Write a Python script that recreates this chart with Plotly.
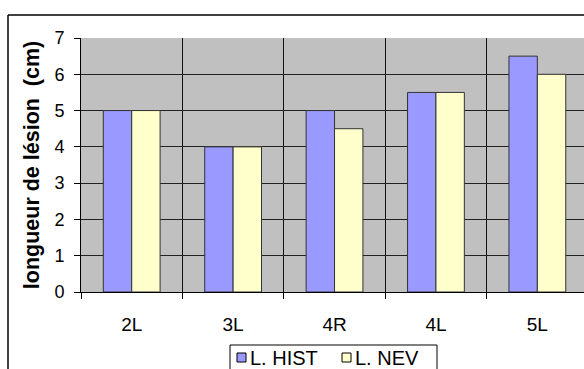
import plotly.graph_objects as go

categories = ["2L", "3L", "4R", "4L", "5L"]
hist_values = [5, 4, 5, 5.5, 6.5]
nev_values = [5, 4, 4.5, 5.5, 6]
y_ticks = [0, 1, 2, 3, 4, 5, 6, 7]
series_names = ["L. HIST", "L. NEV"]
series_colors = ["#9999FF", "#FFFFCC"]

font_family = "Liberation Sans, Arial, sans-serif"

W, H = 584, 369
M_L, M_R, M_T, M_B = 81, 0, 38, 77
PLOT_W = W - M_L - M_R
PLOT_H = H - M_T - M_B


def px(x):
    """pixel x -> paper x"""
    return (x - M_L) / PLOT_W


def py(y):
    """pixel y (from top) -> paper y"""
    return (H - M_B - y) / PLOT_H


fig = go.Figure()
for name, vals, col in zip(series_names, [hist_values, nev_values], series_colors):
    fig.add_trace(go.Bar(
        x=categories, y=vals, name=name,
        marker=dict(color=col, line=dict(color="#333333", width=1)),
        showlegend=False,
    ))

fig.update_layout(
    width=W, height=H,
    margin=dict(l=M_L, r=M_R, t=M_T, b=M_B, autoexpand=False),
    paper_bgcolor="white",
    plot_bgcolor="#C0C0C0",
    barmode="group",
    bargap=0.44,
    bargroupgap=0,
    font=dict(family=font_family, size=18, color="black"),
    xaxis=dict(
        type="category",
        range=[-0.5, 4.46],
        tickson="boundaries",
        ticks="outside", ticklen=6, tickcolor="black", tickwidth=1,
        showgrid=True, gridcolor="#111111", gridwidth=1,
        showline=True, linecolor="black", linewidth=1,
        tickfont=dict(size=19),
        ticklabelstandoff=15,
    ),
    yaxis=dict(
        range=[0, 7],
        tickvals=y_ticks,
        ticks="outside", ticklen=6, tickcolor="black", tickwidth=1,
        showgrid=True, gridcolor="#222222", gridwidth=1,
        showline=True, linecolor="black", linewidth=1,
        zeroline=False,
        tickfont=dict(size=18),
        ticklabelstandoff=6,
        title=dict(text="<b>longueur de lésion  (cm)</b>", font=dict(size=21.5), standoff=8),
    ),
)

# outer chart frame (left and top edges)
frame = dict(color="black", width=1.5)
fig.add_shape(type="line", xref="paper", yref="paper",
              x0=px(8), x1=px(8), y0=py(H), y1=py(15), line=frame)
fig.add_shape(type="line", xref="paper", yref="paper",
              x0=px(8), x1=px(W), y0=py(15), y1=py(15), line=frame)

# legend box with one swatch + label per series
fig.add_shape(type="rect", xref="paper", yref="paper",
              x0=px(230), x1=px(437), y0=py(H + 5), y1=py(345),
              line=dict(color="black", width=1), fillcolor="white")
for name, col, sx in zip(series_names, series_colors, [237, 342]):
    fig.add_shape(type="rect", xref="paper", yref="paper",
                  x0=px(sx), x1=px(sx + 9), y0=py(362), y1=py(353),
                  line=dict(color="black", width=1), fillcolor=col)
    fig.add_annotation(xref="paper", yref="paper", x=px(sx + 11), y=py(357.5),
                       xanchor="left", yanchor="middle", showarrow=False,
                       text=name, font=dict(size=20, color="black"))

fig.write_html("out.html")
